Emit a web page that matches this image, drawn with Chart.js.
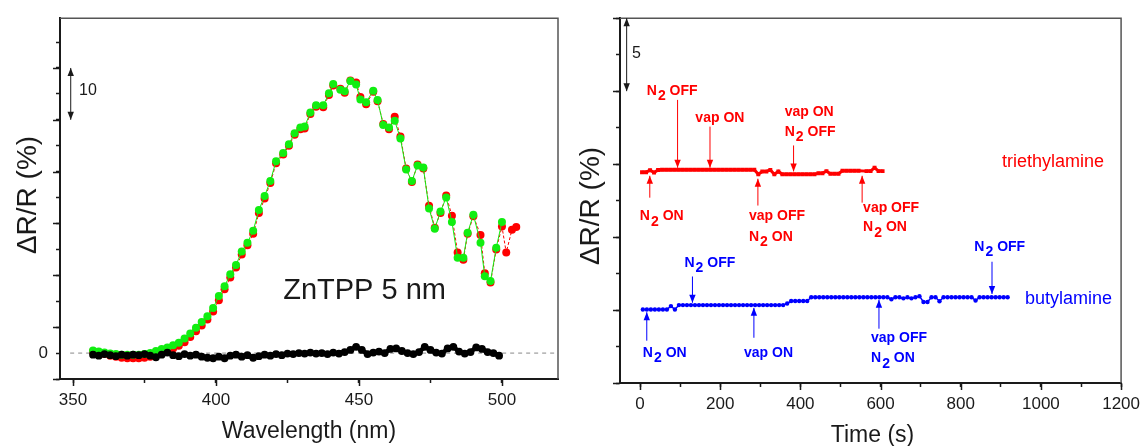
<!DOCTYPE html>
<html>
<head>
<meta charset="utf-8">
<title>ZnTPP reflectance</title>
<script src="https://cdn.jsdelivr.net/npm/chart.js@4.4.0/dist/chart.umd.min.js"></script>
<style>
  html, body { margin: 0; padding: 0; background: #fff; }
  #wrap { position: relative; width: 1147px; height: 446px; }
  #spectrum { position: absolute; left: 0; top: 0; }
  #kinetics { position: absolute; left: 575px; top: 0; }
</style>
</head>
<body>
<div id="wrap">
  <canvas id="spectrum" width="575" height="446"></canvas>
  <canvas id="kinetics" width="572" height="446"></canvas>
</div>
<script>
// ---- spectrum: dR/R vs wavelength ----
const wlGreen = [357,359,361,363,365,367,369,371,373,375,377,379,381,383,385,387,389,391,393,395,
  397,399,401,403,405,407,409,411,413,415,417,419,
  421,423.5,425.5,427.5,429.5,431,433,435,437.5,439.5,441,443.5,445,447,449,450.5,452.5,455,456.5,458.5,
  460.5,462.5,464.5,466.5,468.5,470.5,472.5,474.5,476.5,478.5,480.5,482.5,484.5,486.5,488,490,492.5,494,496,498,500];
const drGreen = [0.5,0.3,0.1,-0.1,-0.2,-0.3,-0.3,-0.3,-0.3,-0.2,0.0,0.4,0.8,1.1,1.5,2.0,2.8,3.8,4.9,6.0,
  7.1,8.7,11.0,12.9,15.2,17.0,19.6,21.3,23.6,27.6,30.3,33.2,
  37.0,38.6,40.3,42.4,43.5,43.7,46.4,47.8,47.8,50.1,51.9,50.8,50.5,52.5,51.8,48.9,48.4,50.6,48.8,44.0,
  43.5,44.8,41.4,35.4,33.2,36.2,35.8,27.9,24.0,27.3,30.0,25.3,18.4,18.4,23.2,26.7,21.3,14.8,13.9,20.3,25.3];

const wlRed = [357,359,361,363,365,367,369,371,373,375,377,379,381,383,385,387,389,391,393,395,
  397,399,401,403,405,407,409,411,413,415,417,419,
  421,423.5,425.5,427.5,429.5,431,433,435,437.5,439.5,441,443.5,445,447,449,450.5,452.5,455,456.5,458.5,
  460.5,462.5,464.5,466.5,468.5,470.5,472.5,474.5,476.5,478.5,480.5,482.5,484.5,486.5,488,490,492.5,494,496,498,500,
  501.5,503.5,505];
const drRed = [0.3,0.1,-0.2,-0.5,-0.7,-0.9,-1.0,-1.0,-1.0,-0.9,-0.7,-0.3,0.1,0.5,0.9,1.4,2.1,3.1,4.2,5.3,
  6.5,8.0,10.2,12.3,14.6,16.5,19.0,20.8,23.0,27.0,29.8,32.8,
  36.6,38.3,40.0,42.1,43.2,43.3,46.1,47.5,47.4,49.8,51.6,51.0,50.2,52.6,52.2,49.4,48.0,50.4,48.6,44.2,
  43.2,45.6,41.8,35.6,33.0,36.4,35.6,28.4,24.2,27.0,30.4,26.5,19.4,18.0,23.0,26.4,22.8,15.4,13.6,20.0,24.4,
  19.4,23.8,24.3];

const wlBlack = [357,359,361,363,365,367,369,371,373,375,377,379,381,383,385,387,389,391,393,395,
  397,399,401,403,405,407,409,411,413,415,417,419,421,423,425,427,429,431,433,435,
  437,439,441,443,445,447,449,451,453,455,457,459,461,463,465,467,469,471,473,475,
  477,479,481,483,485,487,489,491,493,495,497,499];
const drBlack = [-0.3,-0.5,-0.2,-0.4,-0.6,-0.3,-0.5,-0.3,-0.4,-0.2,-0.5,-0.8,-0.3,0.1,-0.4,-0.6,-0.2,-0.5,-0.3,-0.7,
  -0.9,-1.0,-0.7,-1.0,-0.5,-0.3,-0.7,-0.4,-0.9,-0.6,-0.3,-0.5,-0.2,-0.4,-0.1,-0.2,0.0,-0.1,0.1,-0.1,
  0.0,-0.2,0.1,-0.1,0.2,0.6,1.2,0.6,-0.2,0.1,0.3,0.0,0.8,0.9,0.4,0.0,-0.2,0.2,1.2,0.6,
  0.1,-0.1,0.9,1.2,0.3,-0.1,0.2,1.1,0.8,0.2,0.0,-0.5];

const wlTicks = [350, 400, 450, 500];
const drSpecMajor = [-5, 5, 15, 25, 35, 45, 55];

// ---- kinetics: dR/R vs time ----
const timeTEA = [5,15,25,35,45,55,65,75,85,95,105,115,125,135,145,155,165,175,185,195,
  205,215,225,235,245,255,265,275,285,295,305,315,325,335,345,355,365,375,385,395,
  405,415,425,435,445,455,465,475,485,495,505,515,525,535,545,565,575,585,595,605];
const drTEA = [14.45,14.45,14.58,14.42,14.6,14.62,14.62,14.62,14.62,14.62,14.62,14.62,14.62,14.62,14.62,14.62,14.62,14.62,14.62,14.62,
  14.62,14.62,14.62,14.62,14.62,14.62,14.62,14.62,14.62,14.3,14.5,14.5,14.6,14.3,14.5,14.3,14.3,14.3,14.3,14.3,
  14.3,14.3,14.3,14.3,14.38,14.38,14.52,14.34,14.34,14.34,14.55,14.55,14.55,14.55,14.55,14.52,14.52,14.75,14.52,14.52];

const timeBA = [7,17,27,37,47,57,67,77,87,97,107,117,127,137,147,157,167,177,187,197,
  207,217,227,237,247,257,267,277,287,297,307,317,327,337,347,357,367,377,387,397,
  407,417,427,437,447,457,467,477,487,497,507,517,527,537,547,557,567,577,587,597,
  607,617,627,637,647,657,667,677,687,697,707,717,727,737,747,757,767,777,787,797,
  807,817,827,837,847,857,867,877,887,897,907,917];
const drBA = [5.04,5.04,5.04,5.04,5.04,5.04,5.04,5.27,5.04,5.34,5.34,5.34,5.34,5.34,5.34,5.34,5.34,5.34,5.34,5.34,
  5.34,5.34,5.34,5.34,5.34,5.34,5.34,5.34,5.34,5.34,5.34,5.34,5.34,5.34,5.34,5.34,5.45,5.62,5.62,5.62,
  5.62,5.62,5.88,5.88,5.88,5.88,5.88,5.88,5.88,5.88,5.88,5.88,5.88,5.88,5.88,5.88,5.88,5.88,5.88,5.88,
  5.88,5.88,5.74,5.88,5.88,5.8,5.88,5.8,5.88,5.95,5.55,5.55,5.88,5.88,5.6,5.88,5.88,5.88,5.88,5.88,
  5.88,5.88,5.88,5.65,5.88,5.88,5.88,5.88,5.88,5.88,5.88,5.88];

const timeTicks = [0, 200, 400, 600, 800, 1000, 1200];
const drKinMajor = [0, 5, 10, 15, 20, 25];

const FONT = '"Liberation Sans", Arial, Helvetica, sans-serif';
const INK = '#1a1a1a';
const RED = '#ff0000';
const GREEN = '#11ee11';
const BLUE = '#0000ff';

Chart.defaults.font.family = FONT;
Chart.defaults.color = INK;

function xy(xs, ys) {
  return xs.map((x, i) => ({ x: x, y: ys[i] }));
}

// text with "_2" style subscripts
function richText(ctx, str, x, yMid, size, bold, color) {
  ctx.save();
  ctx.fillStyle = color;
  ctx.textAlign = 'left';
  ctx.textBaseline = 'alphabetic';
  ctx.font = (bold ? 'bold ' : '') + size + 'px ' + FONT;
  const base = yMid + size * 0.36;
  let cx = x;
  str.split(/(_\d)/).forEach(part => {
    if (!part) return;
    if (part[0] === '_') {
      ctx.fillText(part[1], cx + 1, base + size * 0.38);
      cx += ctx.measureText(part[1]).width + 1;
    } else {
      ctx.fillText(part, cx, base);
      cx += ctx.measureText(part).width;
    }
  });
  ctx.restore();
}

function vArrow(ctx, x, y1, y2, color, both) {
  const head = (y, dir) => {
    ctx.beginPath();
    ctx.moveTo(x, y);
    ctx.lineTo(x - 3.2, y - dir * 8);
    ctx.lineTo(x + 3.2, y - dir * 8);
    ctx.closePath();
    ctx.fill();
  };
  ctx.save();
  ctx.strokeStyle = color;
  ctx.fillStyle = color;
  ctx.lineWidth = 1;
  ctx.beginPath();
  ctx.moveTo(x, y1);
  ctx.lineTo(x, y2);
  ctx.stroke();
  head(y2, Math.sign(y2 - y1));
  if (both) head(y1, Math.sign(y1 - y2));
  ctx.restore();
}

// frame, long ticks, axis titles and annotations drawn over the chart
function decor(cfg) {
  return {
    id: 'decor',
    afterDraw(chart) {
      const { ctx, chartArea: a, scales: { x, y } } = chart;
      ctx.save();
      ctx.strokeStyle = '#555';
      ctx.lineWidth = 1.5;
      ctx.beginPath();
      ctx.moveTo(a.left, a.top);
      ctx.lineTo(a.right, a.top);
      ctx.lineTo(a.right, a.bottom);
      ctx.stroke();

      ctx.strokeStyle = INK;
      ctx.lineWidth = 1.5;
      cfg.xMajor.forEach(v => {
        const px = Math.round(x.getPixelForValue(v)) + 0.5;
        ctx.beginPath(); ctx.moveTo(px, a.bottom); ctx.lineTo(px, a.bottom + 7); ctx.stroke();
      });
      cfg.yMajor.forEach(v => {
        const py = Math.round(y.getPixelForValue(v)) + 0.5;
        ctx.beginPath(); ctx.moveTo(a.left - 7, py); ctx.lineTo(a.left, py); ctx.stroke();
      });

      ctx.fillStyle = INK;
      ctx.font = '23px ' + FONT;
      ctx.textAlign = 'center';
      ctx.textBaseline = 'alphabetic';
      ctx.fillText(cfg.xTitle, cfg.xTitleX, cfg.xTitleY);

      ctx.save();
      ctx.translate(cfg.yTitleX, cfg.yTitleY);
      ctx.rotate(-Math.PI / 2);
      ctx.font = '28px ' + FONT;
      ctx.textBaseline = 'middle';
      ctx.fillText('ΔR/R (%)', 0, 0);
      ctx.restore();

      cfg.arrows.forEach(ar => {
        vArrow(ctx, x.getPixelForValue(ar.x), y.getPixelForValue(ar.from),
          y.getPixelForValue(ar.to), ar.color, ar.both);
      });
      cfg.notes.forEach(n => {
        richText(ctx, n.text, x.getPixelForValue(n.x), y.getPixelForValue(n.y),
          n.size, n.bold, n.color);
      });
      ctx.restore();
    }
  };
}

function axisX(min, max, step, labels, tickH) {
  return {
    type: 'linear', min: min, max: max,
    afterFit: s => { s.height = tickH; },
    border: { display: true, color: INK, width: 2 },
    grid: { drawOnChartArea: false, drawTicks: true, tickLength: 4, tickColor: INK, tickWidth: 1.5 },
    ticks: {
      stepSize: step, includeBounds: false, autoSkip: false, maxRotation: 0,
      padding: 7, font: { size: 17 }, color: INK,
      callback: v => labels.includes(v) ? String(v) : ''
    }
  };
}

function axisY(min, max, step, labels, w) {
  return {
    type: 'linear', min: min, max: max,
    afterFit: s => { s.width = w; },
    border: { display: true, color: INK, width: 2 },
    grid: { drawOnChartArea: false, drawTicks: true, tickLength: 4, tickColor: INK, tickWidth: 1.5 },
    ticks: {
      stepSize: step, includeBounds: false, autoSkip: false,
      padding: 8, font: { size: 17 }, color: INK,
      callback: v => labels.includes(v) ? String(v) : ''
    }
  };
}

const common = {
  responsive: false,
  animation: false,
  devicePixelRatio: 1,
  events: [],
  plugins: { legend: { display: false }, tooltip: { enabled: false } }
};

new Chart(document.getElementById('spectrum'), {
  type: 'line',
  data: {
    datasets: [
      { data: xy(wlBlack, drBlack), borderColor: '#000', borderWidth: 4.5, pointRadius: 3.9,
        pointBackgroundColor: '#000', pointBorderWidth: 0 },
      { data: xy(wlGreen, drGreen), borderColor: GREEN, borderWidth: 1, pointRadius: 4,
        pointBackgroundColor: GREEN, pointBorderWidth: 0 },
      { data: xy(wlRed, drRed), borderColor: RED, borderWidth: 1, borderDash: [3, 2], pointRadius: 4,
        pointBackgroundColor: RED, pointBorderWidth: 0 },
      { data: [{ x: 349, y: 0 }, { x: 520, y: 0 }], borderColor: '#888', borderWidth: 1,
        borderDash: [4, 4], pointRadius: 0 }
    ]
  },
  options: Object.assign({}, common, {
    layout: { autoPadding: false, padding: { left: 0, right: 17, top: 13, bottom: 0 } },
    scales: {
      x: axisX(345.45, 519.6, 25, wlTicks, 67),
      y: axisY(-5, 64.6, 5, [0], 60)
    }
  }),
  plugins: [decor({
    xMajor: wlTicks, yMajor: drSpecMajor,
    xTitle: 'Wavelength (nm)', xTitleX: 309, xTitleY: 438,
    yTitleX: 28, yTitleY: 195,
    arrows: [{ x: 349.2, from: 55, to: 45, color: INK, both: true }],
    notes: [
      { text: '10', x: 352.1, y: 50.8, size: 16, bold: false, color: INK },
      { text: 'ZnTPP 5 nm', x: 423.5, y: 12.4, size: 29, bold: false, color: INK }
    ]
  })]
});

new Chart(document.getElementById('kinetics'), {
  type: 'line',
  data: {
    datasets: [
      { data: xy(timeTEA, drTEA), borderColor: RED, borderWidth: 3, pointStyle: 'rect', pointRadius: 2.8,
        pointBackgroundColor: RED, pointBorderWidth: 0 },
      { data: xy(timeBA, drBA), borderColor: BLUE, borderWidth: 1.5, pointRadius: 2.2,
        pointBackgroundColor: BLUE, pointBorderWidth: 0 }
    ]
  },
  options: Object.assign({}, common, {
    layout: { autoPadding: false, padding: { left: 0, right: 22, top: 13, bottom: 0 } },
    scales: {
      x: axisX(-50, 1200, 100, timeTicks, 63),
      y: axisY(0, 25, 2.5, [], 45)
    }
  }),
  plugins: [decor({
    xMajor: timeTicks, yMajor: drKinMajor,
    xTitle: 'Time (s)', xTitleX: 297.5, xTitleY: 442,
    yTitleX: 16, yTitleY: 206,
    arrows: [
      { x: -33.4, from: 25, to: 20, color: INK, both: true },
      { x: 93.6, from: 19.4, to: 14.75, color: RED },
      { x: 174.5, from: 17.57, to: 14.75, color: RED },
      { x: 383, from: 16.28, to: 14.5, color: RED },
      { x: 24.3, from: 12.7, to: 14.2, color: RED },
      { x: 294, from: 12.16, to: 14.0, color: RED },
      { x: 554, from: 12.36, to: 14.2, color: RED },
      { x: 130.7, from: 7.3, to: 5.5, color: BLUE },
      { x: 16.8, from: 2.9, to: 4.85, color: BLUE },
      { x: 284, from: 3.1, to: 5.15, color: BLUE },
      { x: 596, from: 3.72, to: 5.7, color: BLUE },
      { x: 878, from: 8.31, to: 6.1, color: BLUE }
    ],
    notes: [
      { text: '5', x: -20.3, y: 22.67, size: 16, bold: false, color: INK },
      { text: 'N_2 OFF', x: 16.8, y: 20.07, size: 14, bold: true, color: RED },
      { text: 'vap ON', x: 138, y: 18.24, size: 14, bold: true, color: RED },
      { text: 'vap ON', x: 360.9, y: 18.65, size: 14, bold: true, color: RED },
      { text: 'N_2 OFF', x: 360.9, y: 17.3, size: 14, bold: true, color: RED },
      { text: 'N_2 ON', x: -0.5, y: 11.49, size: 14, bold: true, color: RED },
      { text: 'vap OFF', x: 271.8, y: 11.49, size: 14, bold: true, color: RED },
      { text: 'N_2 ON', x: 271.8, y: 10.07, size: 14, bold: true, color: RED },
      { text: 'vap OFF', x: 556.4, y: 12.03, size: 14, bold: true, color: RED },
      { text: 'N_2 ON', x: 556.4, y: 10.74, size: 14, bold: true, color: RED },
      { text: 'triethylamine', x: 903, y: 15.27, size: 18, bold: false, color: RED },
      { text: 'N_2 OFF', x: 110.9, y: 8.31, size: 14, bold: true, color: BLUE },
      { text: 'N_2 ON', x: 7, y: 2.16, size: 14, bold: true, color: BLUE },
      { text: 'vap ON', x: 259.4, y: 2.16, size: 14, bold: true, color: BLUE },
      { text: 'vap OFF', x: 576.2, y: 3.18, size: 14, bold: true, color: BLUE },
      { text: 'N_2 ON', x: 576.2, y: 1.76, size: 14, bold: true, color: BLUE },
      { text: 'N_2 OFF', x: 834, y: 9.39, size: 14, bold: true, color: BLUE },
      { text: 'butylamine', x: 960, y: 5.88, size: 18, bold: false, color: BLUE }
    ]
  })]
});
</script>
</body>
</html>
